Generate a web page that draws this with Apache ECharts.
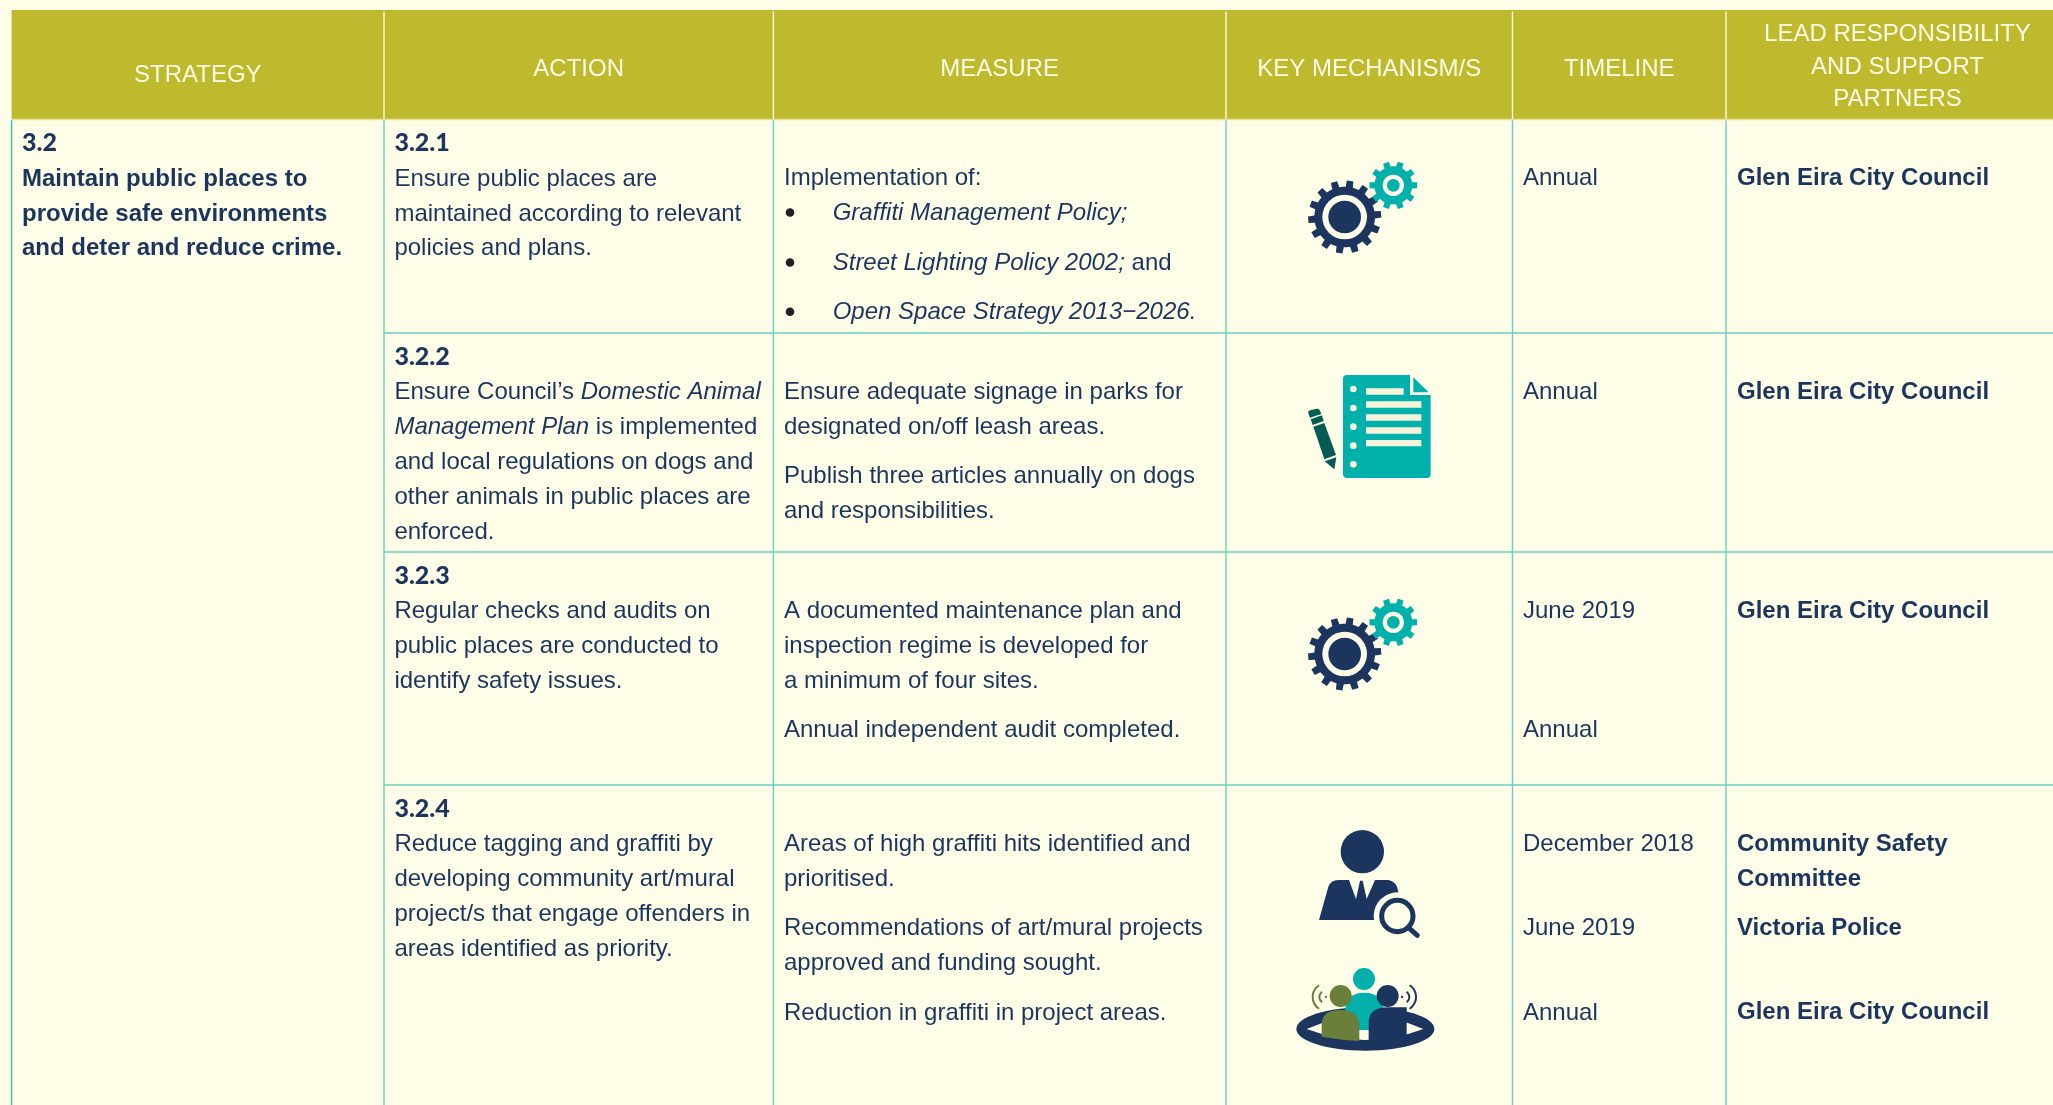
<!DOCTYPE html>
<html>
<head>
<meta charset="utf-8">
<style>html,body{margin:0;padding:0;background:#fefde7;overflow:hidden}#c{width:2053px;height:1105px}</style>
<script src="https://cdn.jsdelivr.net/npm/echarts@6/dist/echarts.min.js"></script>
</head>
<body>
<div id="c"></div>
<script>
// ---- table content ----
const columnHeaders = [['STRATEGY'], ['ACTION'], ['MEASURE'], ['KEY MECHANISM/S'], ['TIMELINE'], ['LEAD RESPONSIBILITY', 'AND SUPPORT', 'PARTNERS']];
const strategyNumber = ['3.2'];
const strategyText = ['Maintain public places to', 'provide safe environments', 'and deter and reduce crime.'];
const actionNumbers = ['3.2.1', '3.2.2', '3.2.3', '3.2.4'];
const actionText = [
  ['Ensure public places are', 'maintained according to relevant', 'policies and plans.'],
  ['Ensure Council’s {i|Domestic Animal}', '{i|Management Plan} is implemented', 'and local regulations on dogs and', 'other animals in public places are', 'enforced.'],
  ['Regular checks and audits on', 'public places are conducted to', 'identify safety issues.'],
  ['Reduce tagging and graffiti by', 'developing community art/mural', 'project/s that engage offenders in', 'areas identified as priority.']
];
const measureText = [
  ['Implementation of:'],
  ['Ensure adequate signage in parks for', 'designated on/off leash areas.', 'Publish three articles annually on dogs', 'and responsibilities.'],
  ['A documented maintenance plan and', 'inspection regime is developed for', 'a minimum of four sites.', 'Annual independent audit completed.'],
  ['Areas of high graffiti hits identified and', 'prioritised.', 'Recommendations of art/mural projects', 'approved and funding sought.', 'Reduction in graffiti in project areas.']
];
const measureBullets = ['{i|Graffiti Management Policy;}', '{i|Street Lighting Policy 2002;} and', '{i|Open Space Strategy 2013−2026.}'];
const timelineText = [['Annual'], ['Annual'], ['June 2019', 'Annual'], ['December 2018', 'June 2019', 'Annual']];
const leadText = [['Glen Eira City Council'], ['Glen Eira City Council'], ['Glen Eira City Council'], ['Community Safety', 'Committee', 'Victoria Police', 'Glen Eira City Council']];
const mechanismIcons = ['gears', 'document', 'gears', 'person', 'people'];

// ---- layout (page pixels, used as the hidden axes' units) ----
const W = 2053, H = 1105;
const columnEdges = [11.6, 384, 773.4, 1226, 1512.5, 1726, 2069];
const headerTop = 10, headerBottom = 119.5;
const rowEdges = [119.5, 333, 552, 785];
const headerBaselines = [[82.7], [76], [76], [76], [76], [41.7, 74.2, 106.2]];
const actionBaselines = [[186.5, 221.3, 255.5], [399.6, 434.8, 469.3, 504.3, 539.3], [618.3, 653.6, 688.3], [851.5, 886.5, 921.5, 956.5]];
const numberBaselines = [150.3, 364, 583, 816.3];
const measureBaselines = [[185.3], [399.3, 434.3, 483.3, 518.3], [618.3, 653.3, 688.3, 737.3], [851.5, 886.5, 935.5, 970.5, 1020]];
const bulletBaselines = [220, 270, 319.3];
const timelineBaselines = [[185.3], [399.3], [618.3, 737.3], [851.5, 935.5, 1020]];
const leadBaselines = [[185.3], [399.3], [618.3], [851.5, 886.5, 935.5, 1019.5]];
const iconOrigins = [[1300, 153], [1200, 140], [1300, 590], [1260, 810], [1290, 960]];

const NAVY = '#1b355e', TEAL = '#00b0aa', DARKTEAL = '#055c55', GREEN = '#6b7f3a', BG = '#fefde7', OLIVE = '#bfb92e', CREAM = '#fefde7', RULE = '#68d0c2';
const SANS = '"Liberation Sans", Arial, sans-serif';
const fonts = {
  head: '24px ' + SANS,
  body: '24px ' + SANS,
  bold: 'bold 24px ' + SANS,
  num: '900 25px Lato, ' + SANS
};
const textX = { strategy: 22, action: 394.4, measure: 784, bullet: 832.7, timeline: 1523, lead: 1737 };
const BASE_SHIFT = 7;

const texts = [];
function put(x, y, text, font, fill, align) { texts.push({ x, y: y - BASE_SHIFT, text, font, fill, align: align || 'left' }); }

columnHeaders.forEach((lines, c) => {
  const cx = (columnEdges[c] + columnEdges[c + 1]) / 2;
  lines.forEach((t, i) => put(cx, headerBaselines[c][i], t, fonts.head, CREAM, 'center'));
});
put(textX.strategy, numberBaselines[0], strategyNumber[0], fonts.num, NAVY);
strategyText.forEach((t, i) => put(textX.strategy, actionBaselines[0][i], t, fonts.bold, NAVY));
actionNumbers.forEach((t, r) => put(textX.action, numberBaselines[r], t, fonts.num, NAVY));
actionText.forEach((lines, r) => lines.forEach((t, i) => put(textX.action, actionBaselines[r][i], t, fonts.body, NAVY)));
measureText.forEach((lines, r) => lines.forEach((t, i) => put(textX.measure, measureBaselines[r][i], t, fonts.body, NAVY)));
measureBullets.forEach((t, i) => put(textX.bullet, bulletBaselines[i], t, fonts.body, NAVY));
timelineText.forEach((lines, r) => lines.forEach((t, i) => put(textX.timeline, timelineBaselines[r][i], t, fonts.body, NAVY)));
leadText.forEach((lines, r) => lines.forEach((t, i) => put(textX.lead, leadBaselines[r][i], t, fonts.bold, NAVY)));

// ---- table rules ----
const rules = [];
columnEdges.slice(1, 6).forEach(x => rules.push({ x1: x, y1: headerTop + 1.5, x2: x, y2: headerBottom, color: CREAM, w: 1.4 }));
rules.push({ x1: columnEdges[0], y1: headerBottom, x2: W, y2: headerBottom, color: '#e6e39a', w: 1.4 });
columnEdges.slice(0, 6).forEach((x, i) => rules.push({ x1: x, y1: headerBottom + 0.7, x2: x, y2: H, color: i === 0 ? '#3dbcb0' : RULE, w: 1.4 }));
rowEdges.slice(1).forEach(y => rules.push({ x1: columnEdges[1], y1: y, x2: W, y2: y, color: RULE, w: 1.6 }));

// ---- icons, drawn in 3x-zoom local units ----
function gearPath(cx, cy, ro, rr, n, rot) {
  const step = Math.PI * 2 / n, pts = [];
  for (let i = 0; i < n; i++) {
    const a = rot + i * step;
    [[-0.5, rr], [-0.27, rr], [-0.2, ro], [0.2, ro], [0.27, rr]].forEach(p => {
      const t = a + p[0] * step;
      pts.push((cx + p[1] * Math.cos(t)).toFixed(1) + ' ' + (cy + p[1] * Math.sin(t)).toFixed(1));
    });
  }
  return 'M' + pts.join('L') + 'Z';
}
const filled = (type, shape, fill) => ({ type, shape, style: { fill } });
const svgPath = (d, fill) => ({ type: 'path', shape: { pathData: d }, style: { fill } });
const arcEl = (cx, cy, r, a, b, color) => ({ type: 'arc', shape: { cx, cy, r, startAngle: a, endAngle: b, clockwise: true }, style: { stroke: color, lineWidth: 6, fill: 'none', lineCap: 'butt' } });
const iconBuilders = {
  gears() {
    return [
      svgPath(gearPath(134, 192, 110, 91, 14, -1.42), NAVY),
      filled('circle', { cx: 134, cy: 192, r: 67 }, BG),
      filled('circle', { cx: 134, cy: 192, r: 49 }, NAVY),
      svgPath(gearPath(280, 97, 72, 57, 10, -1.571 + 0.314), TEAL),
      filled('circle', { cx: 280, cy: 97, r: 32 }, BG),
      filled('circle', { cx: 280, cy: 97, r: 19 }, TEAL)
    ];
  },
  document() {
    const els = [
      svgPath('M441 705L630 705L630 765L692 765L692 1002Q692 1014 680 1014L441 1014Q429 1014 429 1002L429 717Q429 705 441 705Z', TEAL),
      svgPath('M640 712L686 757L640 757Z', TEAL),
      svgPath('M325 820Q323 813 331 811L350 806Q358 805 360 812L364 822L330 833Z', DARKTEAL),
      svgPath('M332 838L366 826L371 843L338 855Z', DARKTEAL),
      svgPath('M340 860L373 849L408 945L373 958Z', DARKTEAL),
      svgPath('M374 964L409 952L403 988Z', DARKTEAL)
    ];
    [[498, 745, 113], [498, 784, 166], [498, 823, 166], [498, 862, 166], [498, 900, 166]].forEach(r => els.push(filled('rect', { x: r[0], y: r[1], width: r[2], height: 19 }, '#f8f6da')));
    [747, 804, 860, 917, 973].forEach(y => els.push(filled('circle', { cx: 460, cy: y, r: 10 }, '#f8f6da')));
    return els;
  },
  person() {
    return [
      filled('circle', { cx: 307, cy: 125, r: 65 }, NAVY),
      svgPath('M177 330L205 230Q212 211 235 210L267 210L288 267L300 212L308 212L320 267L345 210L385 210Q410 214 415 245L415 330Z', NAVY),
      filled('circle', { cx: 412, cy: 318, r: 71 }, BG),
      { type: 'circle', shape: { cx: 412, cy: 318, r: 47 }, style: { fill: 'none', stroke: NAVY, lineWidth: 15 } },
      { type: 'line', shape: { x1: 448, y1: 355, x2: 472, y2: 376 }, style: { stroke: NAVY, lineWidth: 15, lineCap: 'round' } }
    ];
  },
  people() {
    return [
      filled('ellipse', { cx: 226, cy: 207, rx: 207, ry: 65 }, NAVY),
      svgPath('M50 207Q226 127 400 207Q226 273 50 207Z', BG),
      filled('circle', { cx: 222, cy: 57, r: 33 }, TEAL),
      svgPath('M165 150Q170 98 222 98Q276 98 281 150L281 210L165 210Z', TEAL),
      filled('circle', { cx: 152, cy: 108, r: 33 }, GREEN),
      svgPath('M95 195Q95 150 150 150Q208 150 208 195L208 243Q150 240 95 230Z', GREEN),
      filled('circle', { cx: 293, cy: 108, r: 33 }, NAVY),
      svgPath('M236 190Q236 142 293 142L350 142L350 240L236 250Z', NAVY),
      arcEl(110, 111, 42, Math.PI - 1.0, Math.PI + 1.0, GREEN),
      arcEl(106, 111, 18, Math.PI - 1.0, Math.PI + 1.0, GREEN),
      filled('circle', { cx: 108, cy: 111, r: 3.5 }, GREEN),
      arcEl(336, 111, 42, -1.0, 1.0, NAVY),
      arcEl(340, 111, 18, -1.0, 1.0, NAVY),
      filled('circle', { cx: 336, cy: 111, r: 3.5 }, NAVY)
    ];
  }
};

const option = {
  backgroundColor: BG,
  animation: false,
  grid: { left: 0, right: 0, top: 0, bottom: 0, containLabel: false },
  xAxis: { type: 'value', min: 0, max: W, show: false },
  yAxis: { type: 'value', min: 0, max: H, inverse: true, show: false },
  series: [
    {
      name: 'header', type: 'custom', silent: true, clip: false, z: 1,
      data: [[columnEdges[0], headerTop, W, headerBottom]],
      renderItem(params, api) {
        const a = api.coord([api.value(0), api.value(1)]), b = api.coord([api.value(2), api.value(3)]);
        return { type: 'rect', shape: { x: a[0], y: a[1], width: b[0] - a[0], height: b[1] - a[1] }, style: { fill: OLIVE } };
      }
    },
    {
      name: 'rules', type: 'custom', silent: true, clip: false, z: 2,
      data: rules.map(r => [r.x1, r.y1, r.x2, r.y2]),
      renderItem(params, api) {
        const r = rules[params.dataIndex];
        const a = api.coord([r.x1, r.y1]), b = api.coord([r.x2, r.y2]);
        return { type: 'line', shape: { x1: a[0], y1: a[1], x2: b[0], y2: b[1] }, style: { stroke: r.color, lineWidth: r.w } };
      }
    },
    {
      name: 'bullets', type: 'custom', silent: true, clip: false, z: 3,
      data: bulletBaselines.map(y => [790, y - 7.5]),
      renderItem(params, api) {
        const p = api.coord([api.value(0), api.value(1)]);
        return { type: 'circle', shape: { cx: p[0], cy: p[1], r: 4.3 }, style: { fill: '#231f20' } };
      }
    },
    {
      name: 'icons', type: 'custom', silent: true, clip: false, z: 3,
      data: mechanismIcons.map((n, i) => iconOrigins[i]),
      renderItem(params, api) {
        const p = api.coord([api.value(0), api.value(1)]);
        return { type: 'group', x: p[0], y: p[1], scaleX: 1 / 3, scaleY: 1 / 3, children: iconBuilders[mechanismIcons[params.dataIndex]]() };
      }
    },
    {
      name: 'text', type: 'custom', silent: true, clip: false, z: 4,
      data: texts.map(t => [t.x, t.y]),
      renderItem(params, api) {
        const t = texts[params.dataIndex];
        const p = api.coord([t.x, t.y]);
        return {
          type: 'text', x: p[0], y: p[1],
          style: {
            text: t.text, font: t.font, fill: t.fill, align: t.align, verticalAlign: 'middle',
            textAlign: t.align, textVerticalAlign: 'middle',
            rich: { i: { font: 'italic 24px ' + SANS, fill: NAVY } }
          }
        };
      }
    }
  ]
};
const chart = echarts.init(document.getElementById('c'), null, { width: W, height: H });
chart.setOption(option);
</script>
</body>
</html>
